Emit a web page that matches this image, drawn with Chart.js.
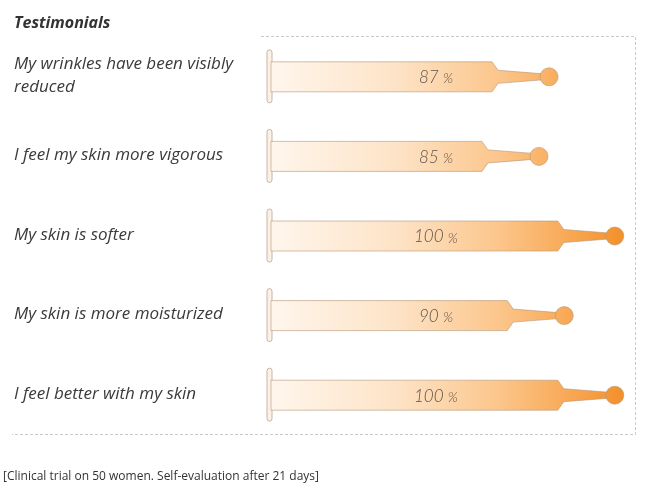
<!DOCTYPE html>
<html>
<head>
<meta charset="utf-8">
<script src="https://cdn.jsdelivr.net/npm/chart.js@4.4.1/dist/chart.umd.min.js"></script>
<style>
  html, body { margin: 0; padding: 0; background: #fff; }
  #wrap { width: 648px; height: 504px; }
</style>
</head>
<body>
<div id="wrap"><canvas id="syringeChart" width="648" height="504"></canvas></div>
<script>
const categories = [
    ['My wrinkles have been visibly', 'reduced'],
    'I feel my skin more vigorous',
    'My skin is softer',
    'My skin is more moisturized',
    'I feel better with my skin'
];
const percentValues = [87, 85, 100, 90, 100];
const chartTitle = 'Testimonials';
const footnote = '[Clinical trial on 50 women. Self-evaluation after 21 days]';

// draws the syringe shapes on top of the (invisible) bars
const syringePlugin = {
    id: 'syringes',
    beforeDraw(chart) {
        const {ctx, chartArea} = chart;
        ctx.save();
        ctx.strokeStyle = '#c9c9c9';
        ctx.lineWidth = 1;
        ctx.setLineDash([3, 2]);
        ctx.beginPath();
        ctx.moveTo(chartArea.left, chartArea.top + 0.5);
        ctx.lineTo(chartArea.right + 0.5, chartArea.top + 0.5);
        ctx.lineTo(chartArea.right + 0.5, chartArea.bottom + 0.5);
        ctx.lineTo(12, chartArea.bottom + 0.5);
        ctx.stroke();
        ctx.restore();

        // title + footnote
        ctx.save();
        ctx.fillStyle = '#333';
        ctx.textBaseline = 'middle';
        ctx.font = 'italic bold 16px "Open Sans"';
        ctx.fillText(chartTitle, 14, 23);
        ctx.font = '12px "Open Sans"';
        ctx.fillText(footnote, 3, 477);
        ctx.restore();
    },
    afterDatasetsDraw(chart) {
        const {ctx, chartArea} = chart;
        const meta = chart.getDatasetMeta(0);
        const gradLeft = chartArea.left + 10;
        const grad = ctx.createLinearGradient(gradLeft, 0, chartArea.right - 15, 0);
        grad.addColorStop(0, '#fff6ec');
        grad.addColorStop(0.35, '#fde4c8');
        grad.addColorStop(0.65, '#fcc68c');
        grad.addColorStop(0.85, '#f8a956');
        grad.addColorStop(1, '#f3912d');

        meta.data.forEach((bar, i) => {
            const x = bar.x;
            const c = bar.y + 1;
            const L = chartArea.left + 11;
            const E = x - 57;

            ctx.save();
            // plunger flange
            ctx.beginPath();
            ctx.roundRect(chartArea.left + 6, c - 27, 5, 53, 2.5);
            ctx.fillStyle = '#fdf1e5';
            ctx.fill();
            ctx.strokeStyle = '#c5b5a6';
            ctx.lineWidth = 1;
            ctx.stroke();

            // barrel + tip + needle
            ctx.beginPath();
            ctx.moveTo(L - 1, c - 15);
            ctx.lineTo(E, c - 15);
            ctx.lineTo(E + 6, c - 6.5);
            ctx.lineTo(x - 6, c - 3);
            ctx.lineTo(x - 6, c + 3);
            ctx.lineTo(E + 6, c + 6.5);
            ctx.lineTo(E, c + 15);
            ctx.lineTo(L - 1, c + 15);
            ctx.closePath();
            ctx.fillStyle = grad;
            ctx.fill();
            ctx.strokeStyle = 'rgba(180,150,120,0.6)';
            ctx.stroke();

            ctx.beginPath();
            ctx.arc(x, c, 9, 0, Math.PI * 2);
            ctx.fill();
            ctx.stroke();

            // value label
            const num = String(percentValues[i]);
            ctx.fillStyle = '#5f5248';
            ctx.textBaseline = 'middle';
            ctx.font = 'italic 300 17px Lato';
            const w1 = ctx.measureText(num + ' ').width;
            ctx.font = 'italic 300 14px Lato';
            const w2 = ctx.measureText('%').width;
            let tx = chartArea.left + 175 - (w1 + w2) / 2;
            ctx.font = 'italic 300 17px Lato';
            ctx.fillText(num + ' ', tx, c + 1);
            ctx.font = 'italic 300 14px Lato';
            ctx.fillText('%', tx + w1, c + 2);
            ctx.restore();
        });
    }
};

document.addEventListener('DOMContentLoaded', function () {
    const ctx = document.getElementById('syringeChart').getContext('2d');
    new Chart(ctx, {
        type: 'bar',
        data: {
            labels: categories,
            datasets: [{
                data: percentValues,
                backgroundColor: 'rgba(0,0,0,0)',
                borderWidth: 0
            }]
        },
        options: {
            indexAxis: 'y',
            responsive: false,
            animation: false,
            layout: {
                padding: {left: 14, right: 13, top: 36, bottom: 70}
            },
            plugins: {
                legend: {display: false},
                tooltip: {enabled: false},
                title: {display: false}
            },
            scales: {
                x: {
                    display: false,
                    min: 30,
                    max: 104
                },
                y: {
                    grid: {display: false},
                    border: {display: false},
                    afterFit: function (scale) {
                        scale.width = 247;
                    },
                    ticks: {
                        crossAlign: 'far',
                        color: '#3a3a3a',
                        font: {family: '"Open Sans"', size: 17, style: 'italic', lineHeight: 1.35}
                    }
                }
            }
        },
        plugins: [syringePlugin]
    });
});
</script>
</body>
</html>
